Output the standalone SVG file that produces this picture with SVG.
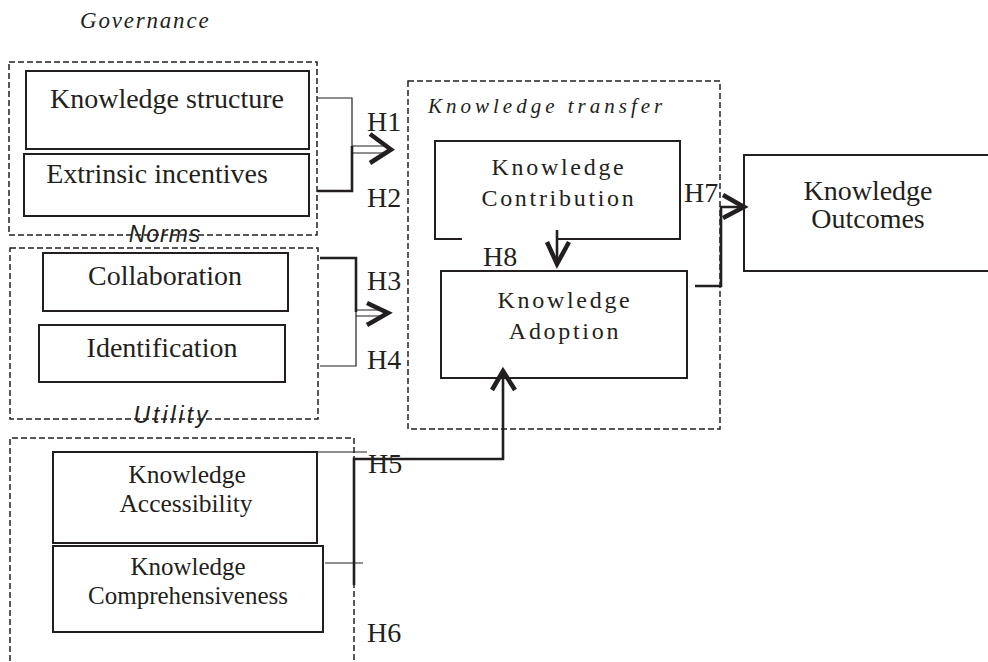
<svg xmlns="http://www.w3.org/2000/svg" width="988" height="662" viewBox="0 0 988 662">
<style>
  .bg { fill: #ffffff; }
  .box { fill: none; stroke: #231f20; stroke-width: 2; }
  .group { fill: none; stroke: #231f20; stroke-width: 1.5; stroke-dasharray: 6 3; }
  .t { font-family: "Liberation Serif", "Times New Roman", serif; fill: #231f20; text-anchor: middle; }
  .lbl { font-family: "Liberation Serif", "Times New Roman", serif; fill: #231f20; font-size: 28px; }
  .kt { font-family: "Liberation Serif", "Times New Roman", serif; fill: #231f20; text-anchor: middle; font-size: 24px; letter-spacing: 2.7px; }
  .ital { font-family: "Liberation Serif", "Times New Roman", serif; font-style: italic; fill: #231f20; font-size: 21px; }
  .sansi { font-family: "Liberation Sans", Arial, sans-serif; font-style: italic; fill: #231f20; font-size: 23px; text-anchor: middle; }
  .thin { fill: none; stroke: #231f20; stroke-width: 1.2; }
  .thick { fill: none; stroke: #231f20; stroke-width: 2.6; }
  .head { fill: none; stroke: #231f20; stroke-width: 4.5; stroke-linejoin: miter; stroke-linecap: butt; }
</style>
<rect class="bg" x="0" y="0" width="988" height="662"/>

<!-- Group frames -->
<g id="governance">
  <text class="ital" x="80" y="28" style="font-size:23px;letter-spacing:1.8px">Governance</text>
  <rect class="group" x="9" y="62" width="308" height="173"/>
</g>
<g id="norms">
  <rect class="group" x="10" y="248" width="308" height="171"/>
  <text class="sansi" x="165" y="242" style="letter-spacing:1px">Norms</text>
</g>
<g id="utility">
  <path class="group" d="M10,670 V438 H354 V670"/>
  <text class="sansi" x="172" y="423" style="letter-spacing:3px">Utility</text>
</g>
<g id="knowledge-transfer">
  <rect class="group" x="408" y="81" width="312" height="348"/>
  <text class="ital" x="428" y="113" style="font-size:21px;letter-spacing:4px">Knowledge transfer</text>
</g>

<!-- Nodes -->
<g id="knowledge-structure">
  <rect class="box" x="26" y="71" width="283" height="78"/>
  <text class="t" x="167" y="108" font-size="28">Knowledge structure</text>
</g>
<g id="extrinsic-incentives">
  <rect class="box" x="24" y="154" width="285" height="62"/>
  <text class="t" x="157" y="183" font-size="28">Extrinsic incentives</text>
</g>
<g id="collaboration">
  <rect class="box" x="43" y="253" width="245" height="58"/>
  <text class="t" x="165" y="285" font-size="28">Collaboration</text>
</g>
<g id="identification">
  <rect class="box" x="39" y="325" width="246" height="57"/>
  <text class="t" x="162" y="357" font-size="28">Identification</text>
</g>
<g id="knowledge-accessibility">
  <rect class="box" x="53" y="452" width="264" height="91"/>
  <text class="t" x="187" y="483" font-size="25.5">Knowledge</text>
  <text class="t" x="186" y="512" font-size="25.5">Accessibility</text>
</g>
<g id="knowledge-comprehensiveness">
  <rect class="box" x="53" y="546" width="270" height="86"/>
  <text class="t" x="188" y="575" font-size="25">Knowledge</text>
  <text class="t" x="188" y="604" font-size="25">Comprehensiveness</text>
</g>
<g id="knowledge-contribution">
  <path class="box" d="M462,239 H435 V141 H680 V239 H557"/>
  <text class="kt" x="559" y="175">Knowledge</text>
  <text class="kt" x="559" y="206">Contribution</text>
</g>
<g id="knowledge-adoption">
  <rect class="box" x="441" y="271" width="246" height="107"/>
  <text class="kt" x="565" y="308">Knowledge</text>
  <text class="kt" x="565" y="339">Adoption</text>
</g>
<g id="knowledge-outcomes">
  <path class="box" d="M992,155 H744 V271 H992"/>
  <text class="t" x="868" y="200" font-size="28">Knowledge</text>
  <text class="t" x="868" y="228" font-size="28">Outcomes</text>
</g>

<!-- Connectors -->
<g id="connectors">
  <!-- H1 / H2 -->
  <path class="thin" d="M317,98 H352 V146"/>
  <path class="thick" d="M317,191 H352 V146"/>
  <path class="thin" d="M352,146 H386 M352,153 H386"/>
  <path class="head" d="M370,134 L391,149.5 L370,163"/>
  <!-- H3 / H4 -->
  <path class="thick" d="M320,258 H356 V312"/>
  <path class="thin" d="M320,366 H356 V312"/>
  <path class="thin" d="M356,310 H386 M356,316 H386"/>
  <path class="head" d="M367,303 L388,313 L367,325"/>
  <!-- H5 / H6 -->
  <path class="thin" d="M317,452 H367"/>
  <path class="thin" d="M325,563 H363"/>
  <path class="thick" d="M354,585 V459 H503 V372"/>
  <path class="head" d="M492,390 L503,371 L515,390"/>
  <!-- H8 -->
  <path class="thick" d="M557,230 V262"/>
  <path class="head" d="M547,242 L557,264 L569,242"/>
  <!-- H7 -->
  <path class="thick" d="M695,286 H721 V207 H742"/>
  <path class="head" d="M723,195 L744,207 L723,218"/>
  <!-- labels -->
  <text class="lbl" x="367" y="131">H1</text>
  <text class="lbl" x="367" y="207">H2</text>
  <text class="lbl" x="367" y="290">H3</text>
  <text class="lbl" x="367" y="369">H4</text>
  <text class="lbl" x="368" y="473">H5</text>
  <text class="lbl" x="367" y="642">H6</text>
  <text class="lbl" x="684" y="202">H7</text>
  <text class="lbl" x="483" y="266">H8</text>
</g>
</svg>
